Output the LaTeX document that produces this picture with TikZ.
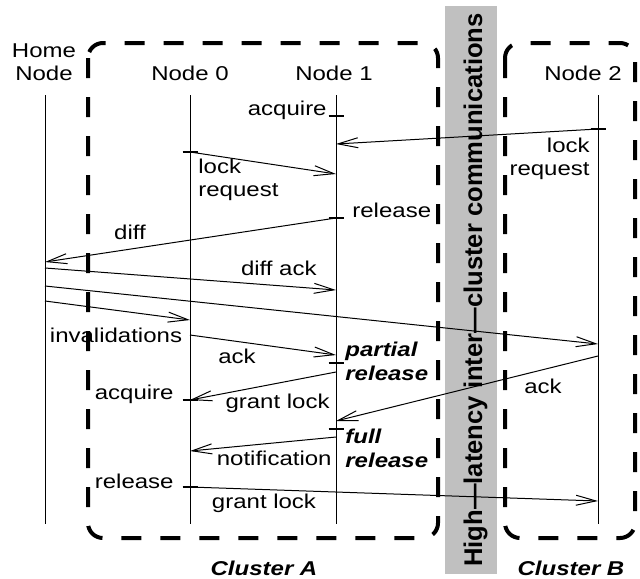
\documentclass[tikz,border=0pt]{standalone}
\usepackage{fontspec}
\setmainfont{Liberation Sans}[FakeStretch=1.2]
\newfontfamily\bandfont{Liberation Sans}
\usepackage{xcolor}
\usepackage{tikz}
\usetikzlibrary{arrows.meta}

\definecolor{bandgray}{RGB}{192,192,192}

\begin{document}
\begin{tikzpicture}[x=0.5pt,y=-0.5pt,
  lifeline/.style={line width=0.5pt},
  msg/.style={line width=0.5pt,-{Straight Barb[length=10pt,width=5pt]}},
  tickmark/.style={line width=1pt},
  cluster/.style={line width=2pt,dash pattern=on 10pt off 9.5pt,rounded corners=7.5pt},
  lbl/.style={inner sep=0pt,font=\fontsize{10}{11.8}\selectfont},
  boldlbl/.style={inner sep=0pt,font=\fontsize{10}{11.8}\selectfont\bfseries\itshape}]
\useasboundingbox (0,0) rectangle (640,578);

% High-latency band between the clusters
\fill[bandgray] (445,6) rectangle (497,574);
\node[rotate=90,anchor=base,inner sep=0pt,font=\bandfont\bfseries\fontsize{12.8}{14}\selectfont] (band) at (482,290) {High—latency inter—cluster communications};

% Clusters
\draw[cluster] (88,43) rectangle (438,538);
\draw[cluster] (505,43) rectangle (635,538);
\node[boldlbl,anchor=base] (clA) at (264,575) {Cluster A};
\node[boldlbl,anchor=base] (clB) at (571,575) {Cluster B};

% Processes
\node[lbl,anchor=north,align=center] (home) at (44,43) {Home\\Node};
\node[lbl,anchor=base] (n0) at (190,80) {Node 0};
\node[lbl,anchor=base] (n1) at (334,80) {Node 1};
\node[lbl,anchor=base] (n2) at (583,80) {Node 2};

% Time lines
\coordinate (home-top) at (45,95);
\coordinate (home-bot) at (45,524);
\coordinate (n0-top) at (190,95);
\coordinate (n0-bot) at (190,524);
\coordinate (n1-top) at (336,95);
\coordinate (n1-bot) at (336,524);
\coordinate (n2-top) at (598,95);
\coordinate (n2-bot) at (598,524);
\draw[lifeline] (home-top) -- (home-bot);
\draw[lifeline] (n0-top) -- (n0-bot);
\draw[lifeline] (n1-top) -- (n1-bot);
\draw[lifeline] (n2-top) -- (n2-bot);

% Events on the time lines
\coordinate (n1-acq) at (336,116);
\coordinate (n2-req) at (598,129);
\coordinate (n1-req) at (336,144);
\coordinate (n0-req) at (190,152);
\coordinate (n1-getreq) at (336,174);
\coordinate (n1-rel) at (336,218);
\coordinate (home-diff) at (45,262);
\coordinate (home-dack) at (45,268);
\coordinate (n1-dack) at (336,290);
\coordinate (home-inv2) at (45,286);
\coordinate (n2-inv) at (598,344);
\coordinate (home-inv0) at (45,301);
\coordinate (n0-inv) at (190,320);
\coordinate (n0-ack) at (190,335);
\coordinate (n1-ack0) at (336,355);
\coordinate (n1-prel) at (336,363);
\coordinate (n1-grant) at (336,372);
\coordinate (n0-acq) at (190,400);
\coordinate (n2-ack) at (598,356);
\coordinate (n1-ack2) at (336,421);
\coordinate (n1-frel) at (336,429);
\coordinate (n1-note) at (336,437);
\coordinate (n0-note) at (190,451);
\coordinate (n0-rel) at (190,487);
\coordinate (n2-grant) at (598,501);

% Ticks
\draw[tickmark] ([xshift=-3.75pt]n1-acq) -- ([xshift=3.75pt]n1-acq);
\draw[tickmark] ([xshift=-3.75pt]n2-req) -- ([xshift=3.75pt]n2-req);
\draw[tickmark] ([xshift=-3.75pt]n0-req) -- ([xshift=3.75pt]n0-req);
\draw[tickmark] ([xshift=-3.75pt]n1-rel) -- ([xshift=3.75pt]n1-rel);
\draw[tickmark] ([xshift=-3.75pt]n1-prel) -- ([xshift=3.75pt]n1-prel);
\draw[tickmark] ([xshift=-3.75pt]n0-acq) -- ([xshift=3.75pt]n0-acq);
\draw[tickmark] ([xshift=-3.75pt]n1-frel) -- ([xshift=3.75pt]n1-frel);
\draw[tickmark] ([xshift=-3.75pt]n0-rel) -- ([xshift=3.75pt]n0-rel);

% Messages
\draw[msg] (n2-req) -- (n1-req);
\draw[msg] (n0-req) -- (n1-getreq);
\draw[msg] (n1-rel) -- (home-diff);
\draw[msg] (home-dack) -- (n1-dack);
\draw[msg] (home-inv2) -- (n2-inv);
\draw[msg] (home-inv0) -- (n0-inv);
\draw[msg] (n0-ack) -- (n1-ack0);
\draw[msg] (n1-grant) -- (n0-acq);
\draw[msg] (n2-ack) -- (n1-ack2);
\draw[msg] (n1-note) -- (n0-note);
\draw[msg] (n0-rel) -- (n2-grant);

% Labels
\node[lbl,anchor=base east] (l-acq1) at (327,115) {acquire};
\node[lbl,anchor=north east,align=right] (l-req2) at (590,137.5) {lock\\request};
\node[lbl,anchor=north west,align=left] (l-req0) at (198,158.5) {lock\\request};
\node[lbl,anchor=base west] (l-rel1) at (352,217) {release};
\node[lbl,anchor=base] (l-diff) at (130,239) {diff};
\node[lbl,anchor=base east] (l-dack) at (317,275) {diff ack};
\node[lbl,anchor=base] (l-inv) at (116,342) {invalidations};
\node[lbl,anchor=base] (l-ack0) at (237,363) {ack};
\node[boldlbl,anchor=north west,align=left] (l-prel) at (345,341.5) {partial\\release};
\node[lbl,anchor=base east] (l-acq0) at (174,399) {acquire};
\node[lbl,anchor=base east] (l-grant1) at (330,408) {grant lock};
\node[lbl,anchor=base] (l-ack2) at (543,393) {ack};
\node[boldlbl,anchor=north west,align=left] (l-frel) at (345,428.5) {full\\release};
\node[lbl,anchor=base east] (l-note) at (332,465) {notification};
\node[lbl,anchor=base east] (l-rel0) at (174,488) {release};
\node[lbl,anchor=base] (l-grant2) at (264,508) {grant lock};
\end{tikzpicture}
\end{document}
